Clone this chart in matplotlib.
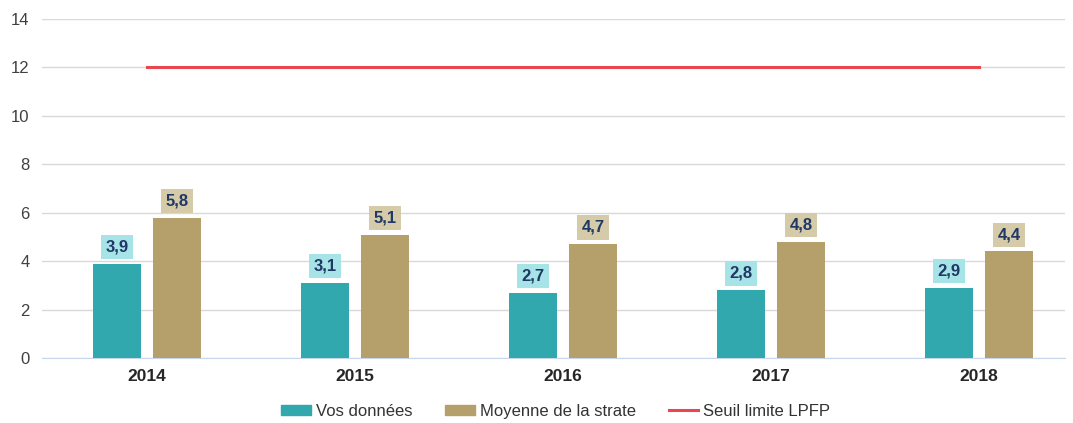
import numpy as np
import matplotlib.pyplot as plt
from matplotlib.lines import Line2D
from matplotlib.patches import Patch

plt.rcParams['font.family'] = ['Liberation Sans', 'DejaVu Sans']

years = ['2014', '2015', '2016', '2017', '2018']
vos = [3.9, 3.1, 2.7, 2.8, 2.9]
moyenne = [5.8, 5.1, 4.7, 4.8, 4.4]
seuil = [12, 12, 12, 12, 12]

teal = '#31a8ad'
tan = '#b5a06c'
red = '#e8474f'

fig = plt.figure(figsize=(10.73, 4.23), dpi=100)
ax = fig.add_axes([42/1073, 1-358/423, (1065-42)/1073, (358-19)/423])

x = np.arange(len(years))
off = 0.145
w = 0.23
ax.bar(x - off, vos, w, color=teal, zorder=3)
ax.bar(x + off, moyenne, w, color=tan, zorder=3)
ax.plot(x, seuil, color=red, lw=2.2, zorder=4)

for xi, v in zip(x, vos):
    ax.text(xi - off, v + 0.69, f"{v:.1f}".replace('.', ','), ha='center', va='center',
            fontsize=12, fontweight='bold', color='#1f3864', zorder=5,
            bbox=dict(boxstyle='square,pad=0.28', fc='#a6e4e7', ec='none'))
for xi, v in zip(x, moyenne):
    ax.text(xi + off, v + 0.69, f"{v:.1f}".replace('.', ','), ha='center', va='center',
            fontsize=12, fontweight='bold', color='#1f3864', zorder=5,
            bbox=dict(boxstyle='square,pad=0.28', fc='#d6cba9', ec='none'))

ax.set_xlim(-0.505, 4.413)
ax.set_ylim(0, 14)
ax.set_yticks(range(0, 15, 2))
ax.set_xticks(x)
ax.set_xticklabels(years, fontsize=12.5, fontweight='bold', color='#262626')
ax.tick_params(axis='y', labelsize=12, colors='#404040', length=0, pad=9)
ax.tick_params(axis='x', length=0, pad=8)
ax.grid(axis='y', color='#d9d9d9', lw=1, zorder=0)
for s in ['top', 'right', 'left']:
    ax.spines[s].set_visible(False)
ax.spines['bottom'].set_color('#c9d7ec')

handles = [Patch(color=teal, label='Vos données'),
           Patch(color=tan, label='Moyenne de la strate'),
           Line2D([0], [0], color=red, lw=2.2, label='Seuil limite LPFP')]
fig.legend(handles=handles, loc='center', bbox_to_anchor=(0.518, 0.028), ncol=3,
           frameon=False, fontsize=12, handlelength=1.75, handleheight=0.54,
           handletextpad=0.3, columnspacing=2.0, labelcolor='#333333')

fig.savefig('out.png', dpi=100)
